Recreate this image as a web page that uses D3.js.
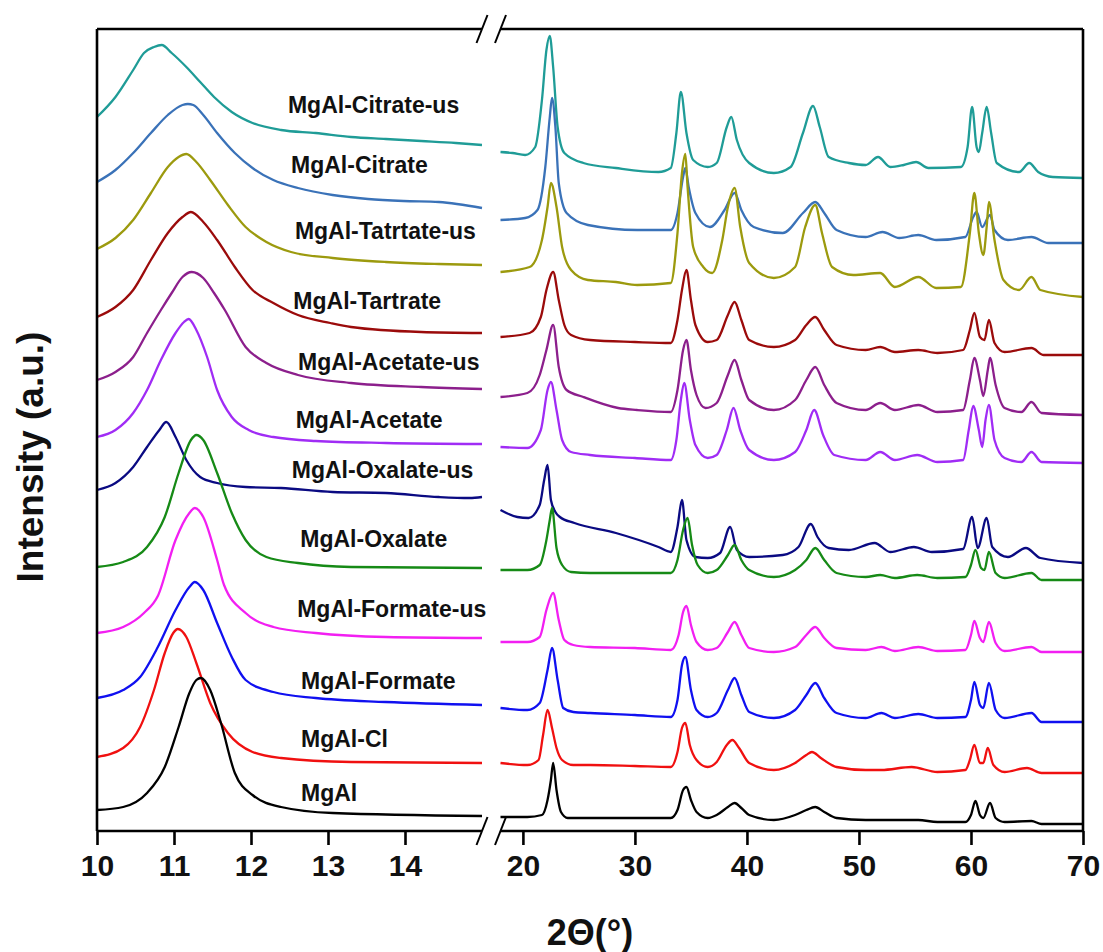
<!DOCTYPE html>
<html>
<head>
<meta charset="utf-8">
<script src="https://cdn.jsdelivr.net/npm/d3@7"></script>
<style>
  body { margin: 0; background: #fff; }
  text { font-family: "Liberation Sans", Arial, sans-serif; font-weight: bold; }
</style>
</head>
<body>
<div id="chart"></div>
<script>
/* Stacked XRD patterns, broken 2-theta axis */

// sample names, top to bottom
const names = ["MgAl-Citrate-us", "MgAl-Citrate", "MgAl-Tatrtate-us", "MgAl-Tartrate",
  "MgAl-Acetate-us", "MgAl-Acetate", "MgAl-Oxalate-us", "MgAl-Oxalate",
  "MgAl-Formate-us", "MgAl-Formate", "MgAl-Cl", "MgAl"];

const colors = ["#1f9c97", "#3a72b8", "#9c9a0e", "#9b0b0b", "#8c1f8c", "#a02cf5",
  "#0a0a82", "#168a16", "#f21ff2", "#1010f0", "#f01010", "#000000"];

// where each name sits: [2theta, intensity]
const labelAt = [[12.48, 718], [12.52, 658], [12.57, 592], [12.55, 522], [12.61, 461], [12.58, 403],
  [12.53, 353], [12.64, 284], [12.6, 214], [12.65, 142], [12.65, 84], [12.65, 30]];

// ---- low angle part (10 - 15 deg) ----
const citrateUsLow = [[10,714],[10.24,734],[10.47,761],[10.61,778],[10.74,784],[10.84,786],[10.97,778],[11.16,764],[11.34,749],[11.52,734],[11.75,719],[12.02,708],[12.39,701],[12.84,698],[13.3,694],[13.75,692],[14.21,690],[14.66,688],[15,686]];
const citrateLow = [[10,649],[10.24,661],[10.47,678],[10.7,698],[10.92,716],[11.11,726],[11.18,727],[11.25,726],[11.38,716],[11.56,698],[11.79,678],[12.02,663],[12.29,651],[12.61,643],[13.06,636],[13.52,632],[13.98,630],[14.44,629],[15,623]];
const tatrtateUsLow = [[10,582],[10.24,593],[10.47,611],[10.7,638],[10.92,664],[11.06,674],[11.16,677],[11.29,669],[11.47,651],[11.7,626],[11.93,604],[12.2,589],[12.52,579],[13.06,573],[13.75,569],[14.44,567],[15,566]];
const tartrateLow = [[10,514],[10.24,524],[10.47,541],[10.7,571],[10.92,598],[11.11,614],[11.22,619],[11.38,609],[11.56,591],[11.79,564],[12.02,541],[12.29,528],[12.61,516],[13.03,508],[13.3,504],[14.21,499],[15,498]];
const acetateUsLow = [[10,451],[10.24,459],[10.47,474],[10.65,498],[10.83,521],[10.97,538],[11.11,554],[11.23,559],[11.38,553],[11.52,538],[11.66,521],[11.93,484],[12.2,468],[12.61,456],[13.3,448],[14.21,444],[15,442]];
const acetateLow = [[10,394],[10.24,401],[10.47,418],[10.65,441],[10.83,471],[11.02,498],[11.13,509],[11.19,512],[11.29,501],[11.43,474],[11.56,441],[11.75,414],[11.97,401],[12.29,394],[12.84,390],[13.75,388],[15,387]];
const oxalateUsLow = [[10,341],[10.24,348],[10.47,364],[10.65,384],[10.81,401],[10.9,409],[11.02,394],[11.16,371],[11.34,354],[11.56,348],[11.93,344],[12.39,343],[13.06,339],[13.75,338],[14.44,334],[14.84,333],[15,334]];
const oxalateLow = [[10,264],[10.34,269],[10.65,284],[10.88,314],[11.06,358],[11.22,391],[11.29,396],[11.38,391],[11.56,358],[11.75,318],[11.93,291],[12.2,274],[12.61,268],[13.3,264],[15,263]];
const formateUsLow = [[10,198],[10.34,204],[10.61,218],[10.79,235],[11.02,291],[11.2,318],[11.27,323],[11.38,314],[11.56,271],[11.65,246],[11.93,218],[12.29,204],[12.84,198],[13.75,194],[15,193]];
const formateLow = [[10,133],[10.34,141],[10.56,154],[10.79,184],[11.02,221],[11.2,244],[11.27,249],[11.38,241],[11.56,208],[11.75,174],[11.93,151],[12.29,139],[12.84,133],[13.75,129],[15,126]];
const clLow = [[10,74],[10.34,83],[10.56,104],[10.74,141],[10.88,178],[10.99,198],[11.05,202],[11.16,194],[11.29,168],[11.47,128],[11.7,98],[12.02,79],[12.39,73],[13.3,69],[15,68]];
const mgalLow = [[10,21],[10.34,24],[10.65,38],[10.88,64],[11.06,104],[11.2,138],[11.29,151],[11.35,153],[11.47,141],[11.61,108],[11.79,58],[12.02,36],[12.39,24],[13.06,18],[15,15]];

// ---- high angle part (18 - 70 deg) ----
const citrateUsHigh = [[18,679],[19.07,678],[20.2,676],[21.1,684],[21.7,731],[22.1,781],[22.4,795],[22.7,764],[23.1,704],[23.7,678],[25.4,668],[28.3,663],[32.1,659],[33.2,663],[33.7,698],[34.1,739],[34.6,698],[35.2,671],[36.5,664],[37.3,668],[38.2,704],[38.6,714],[39.1,691],[40.2,668],[42.4,658],[43.9,664],[45,698],[45.9,725],[46.5,704],[47.3,674],[49.1,668],[50.6,666],[51.7,674],[52.8,664],[54,666],[55.1,669],[56.2,663],[59.1,664],[59.7,684],[60.1,724],[60.5,684],[60.7,679],[61,698],[61.4,724],[61.8,698],[62.3,668],[64.3,659],[65.2,668],[66,659],[67.3,654],[70,653]];
const citrateHigh = [[18,611],[20.2,613],[21.3,621],[22,664],[22.4,714],[22.6,733],[22.9,704],[23.2,648],[23.9,618],[25.8,606],[30.2,601],[33.2,601],[33.8,618],[34.3,654],[34.5,663],[34.8,644],[35.4,618],[36.7,604],[38,621],[38.9,638],[39.5,621],[40.6,604],[43.2,598],[45,618],[46.1,629],[46.9,618],[48,601],[50.6,594],[52.1,599],[53.6,593],[55.3,596],[56.9,591],[59.5,594],[60.2,614],[60.5,619],[61,604],[61.7,616],[62.1,601],[63.3,591],[65.4,594],[66.9,588],[70,588]];
const tatrtateUsHigh = [[18,559],[20.6,564],[21.7,591],[22.2,624],[22.5,648],[23,624],[23.5,584],[24.3,561],[25.8,551],[28.3,549],[30.2,546],[33.2,548],[33.8,598],[34.2,658],[34.5,677],[34.7,644],[35.2,584],[36.1,564],[36.9,558],[37.8,591],[38.3,624],[38.9,643],[39.4,604],[40.2,568],[42.4,553],[44.3,564],[45.2,604],[46.1,626],[46.7,598],[47.6,564],[49.5,556],[51.9,558],[53.2,544],[55.3,554],[56.9,543],[59.1,544],[59.9,598],[60.3,638],[60.7,598],[61.1,576],[61.4,604],[61.6,629],[62.1,591],[62.9,551],[64.3,541],[65.4,554],[66.2,541],[70,534]];
const tartrateHigh = [[18,494],[20.6,498],[21.6,514],[22.1,541],[22.7,559],[23.2,531],[23.7,506],[24.3,496],[26,491],[30,489],[33.2,488],[33.8,511],[34.2,541],[34.6,561],[35,531],[35.4,506],[36.5,489],[37.3,491],[38.3,516],[38.9,529],[39.5,511],[40.2,491],[42.4,484],[44.3,491],[45.3,506],[46.1,514],[46.9,501],[48,486],[50.6,481],[51.9,484],[53.2,479],[55.3,481],[57,478],[59.3,481],[59.9,501],[60.3,518],[60.8,494],[61.2,491],[61.6,511],[62.1,488],[63,479],[65.4,483],[66.5,476],[70,476]];
const acetateUsHigh = [[18,434],[20.4,438],[21.5,456],[22.1,481],[22.7,506],[23.2,464],[23.9,441],[25.4,434],[28.5,423],[30.2,421],[33.2,419],[33.8,441],[34.3,481],[34.6,491],[35,461],[35.5,436],[36.3,423],[37.3,428],[38.3,456],[38.9,471],[39.5,451],[40.2,431],[42.4,421],[44.3,431],[45.3,451],[46.1,464],[46.9,446],[48,428],[50.6,421],[51.9,428],[53.2,421],[55.3,426],[57,419],[59.3,421],[59.9,451],[60.3,473],[60.8,451],[61.1,435],[61.5,461],[61.7,473],[62.2,446],[63,423],[64.5,419],[65.4,429],[66.3,418],[70,416]];
const acetateHigh = [[18,384],[20.4,383],[21.6,401],[22.2,441],[22.5,449],[23,421],[23.5,391],[24.3,379],[26,376],[30,373],[33.2,371],[33.7,391],[34.1,431],[34.4,448],[34.9,411],[35.4,386],[36.5,373],[37.3,376],[38.2,401],[38.8,423],[39.4,401],[40.2,381],[42.4,371],[44.3,379],[45.3,401],[46,421],[46.8,396],[47.8,376],[50.6,371],[51.9,379],[53.2,371],[55.2,376],[57,369],[59.3,371],[59.8,401],[60.2,425],[60.7,401],[61,384],[61.3,411],[61.6,426],[62.1,391],[63,373],[64.5,369],[65.4,379],[66.3,369],[70,368]];
const oxalateUsHigh = [[18,321],[19.5,314],[20.5,313],[21.5,326],[21.9,351],[22.2,366],[22.5,331],[22.9,319],[23.3,314],[24.6,308],[28.3,298],[32.1,284],[33.2,279],[33.8,304],[34.2,331],[34.6,291],[35.4,274],[36.5,273],[37.6,278],[38.5,304],[39.1,281],[40.2,274],[43.2,276],[44.6,284],[45.7,307],[46.3,294],[47.3,283],[49.1,281],[51.4,288],[52.8,279],[54.9,284],[56.5,279],[59.3,282],[60.1,314],[60.6,283],[61.4,313],[61.9,284],[63.3,274],[64.9,283],[66.2,273],[70,268]];
const oxalateHigh = [[18,261],[20.4,261],[21.5,266],[22.1,291],[22.4,311],[22.6,323],[23,283],[23.5,266],[24.3,259],[26,258],[30,258],[33.2,258],[33.8,271],[34.3,301],[34.7,313],[35.1,286],[35.6,266],[36.5,258],[37.3,261],[38.3,276],[38.9,286],[39.5,271],[40.2,261],[42.4,254],[44.3,261],[45.3,271],[46.1,283],[46.9,271],[48,258],[50.6,254],[51.9,256],[53.2,253],[55.2,256],[57,253],[59.5,254],[60,266],[60.4,281],[60.9,263],[61.2,261],[61.6,279],[62.2,258],[63,253],[65.4,258],[66.3,251],[70,251]];
const formateUsHigh = [[18,189],[20.4,189],[21.5,194],[22.1,221],[22.7,238],[23.2,211],[23.7,191],[24.5,186],[26,184],[30,183],[33.2,181],[33.9,196],[34.3,219],[34.6,225],[35,206],[35.5,189],[36.5,181],[37.3,183],[38.3,199],[38.9,209],[39.5,196],[40.2,183],[42.4,179],[44.3,184],[45.3,196],[46.1,204],[46.9,193],[48,183],[50.6,181],[52,184],[53.2,180],[55.3,184],[57,180],[59.5,181],[60,196],[60.3,210],[60.8,193],[61.1,189],[61.6,209],[62.2,188],[63,180],[65.4,184],[66.3,179],[70,179]];
const formateHigh = [[18,123],[20.4,121],[21.5,128],[22.2,161],[22.6,183],[23.1,151],[23.6,123],[24.5,119],[26,118],[30,116],[33.2,114],[33.8,131],[34.2,166],[34.5,174],[35,141],[35.5,121],[36.5,114],[37.3,118],[38.3,141],[38.9,153],[39.5,136],[40.2,119],[42.4,113],[44.3,121],[45.3,136],[46.1,148],[46.9,133],[48,118],[50.6,113],[52,118],[53.2,113],[55.3,117],[57,113],[59.5,114],[60,131],[60.3,149],[60.8,126],[61.1,123],[61.6,148],[62.2,121],[63,113],[65.4,118],[66.3,109],[70,109]];
const clHigh = [[18,68],[20.4,66],[21.4,71],[21.8,96],[22.2,121],[22.6,103],[23,83],[23.5,71],[24.5,66],[26,66],[30,65],[33.2,64],[33.8,79],[34.2,103],[34.5,108],[34.9,86],[35.5,71],[36.5,64],[37.3,69],[38.2,86],[38.7,91],[39.3,83],[40.2,68],[42.4,61],[44.3,68],[45.3,76],[45.8,79],[46.6,73],[48,64],[50.6,61],[52,61],[54.7,64],[57,59],[59.5,61],[59.9,71],[60.3,86],[60.8,68],[61.1,68],[61.5,83],[62,66],[63,59],[65,63],[66.3,58],[70,58]];
const mgalHigh = [[18,14],[20.4,14],[21.7,16],[22.2,31],[22.5,51],[22.7,68],[23,41],[23.4,19],[24,13],[26,13],[30,13],[33.2,13],[33.8,21],[34.3,41],[34.6,44],[35,31],[35.5,19],[36.5,13],[37.3,16],[38.3,24],[38.9,28],[39.5,23],[40.2,16],[42.4,11],[44.3,16],[45.3,21],[46.1,24],[46.9,19],[48,13],[50.6,11],[52,11],[55.3,11],[57,9],[59.5,9],[60,16],[60.4,30],[60.8,16],[61.1,13],[61.7,28],[62.2,13],[63,9],[65.4,10],[66.3,7],[70,7]];

const lowTicks = [10, 11, 12, 13, 14];
const highTicks = [20, 30, 40, 50, 60, 70];

const lowSets = [citrateUsLow, citrateLow, tatrtateUsLow, tartrateLow, acetateUsLow, acetateLow,
  oxalateUsLow, oxalateLow, formateUsLow, formateLow, clLow, mgalLow];
const highSets = [citrateUsHigh, citrateHigh, tatrtateUsHigh, tartrateHigh, acetateUsHigh, acetateHigh,
  oxalateUsHigh, oxalateHigh, formateUsHigh, formateHigh, clHigh, mgalHigh];

const width = 1103, height = 952;
const plotTop = 29, plotBottom = 831, plotLeft = 97, plotRight = 1083;

const svg = d3.select("#chart")
  .append("svg")
  .attr("width", width)
  .attr("height", height);

// two x scales for the broken axis
let xLow = d3.scaleLinear().domain([10, 15]).range([plotLeft, 482]);
let xHigh = d3.scaleLinear().domain([18, 70]).range([500.5, plotRight]);
let y = d3.scaleLinear().domain([0, plotBottom - plotTop]).range([plotBottom, plotTop]);

const lineLow = d3.line().x(d => xLow(d[0])).y(d => y(d[1])).curve(d3.curveMonotoneX);
const lineHigh = d3.line().x(d => xHigh(d[0])).y(d => y(d[1])).curve(d3.curveMonotoneX);

names.forEach((name, i) => {
  svg.append("path")
    .attr("d", lineLow(lowSets[i]))
    .attr("fill", "none")
    .attr("stroke", colors[i])
    .attr("stroke-width", 2.3);
  svg.append("path")
    .attr("d", lineHigh(highSets[i]))
    .attr("fill", "none")
    .attr("stroke", colors[i])
    .attr("stroke-width", 2.3);
});

// sample labels
svg.selectAll(".name")
  .data(names)
  .join("text")
  .attr("class", "name")
  .attr("x", (d, i) => xLow(labelAt[i][0]))
  .attr("y", (d, i) => y(labelAt[i][1]))
  .attr("font-size", 23)
  .attr("fill", "#111")
  .text(d => d);

// frame with breaks
const frame = svg.append("g")
  .attr("stroke", "#000")
  .attr("stroke-width", 2.6)
  .attr("fill", "none");
const bLeft = xLow(15), bRight = xHigh(18);
[plotTop, plotBottom].forEach(yy => {
  frame.append("line").attr("x1", plotLeft).attr("x2", bLeft).attr("y1", yy).attr("y2", yy);
  frame.append("line").attr("x1", bRight).attr("x2", plotRight).attr("y1", yy).attr("y2", yy);
  [bLeft, bRight].forEach(cx => {
    frame.append("line")
      .attr("stroke-width", 2)
      .attr("x1", cx - 5.5).attr("y1", yy + 14)
      .attr("x2", cx + 5.5).attr("y2", yy - 14);
  });
});
frame.append("line").attr("x1", plotLeft).attr("x2", plotLeft).attr("y1", plotTop).attr("y2", plotBottom);
frame.append("line").attr("x1", plotRight).attr("x2", plotRight).attr("y1", plotTop).attr("y2", plotBottom);

// bottom axes
function styleAxis(g) {
  g.select(".domain").remove();
  g.selectAll(".tick line").attr("stroke", "#000").attr("stroke-width", 2.6);
  g.selectAll(".tick text")
    .attr("font-size", 30)
    .attr("font-family", "'Liberation Sans', Arial, sans-serif")
    .attr("font-weight", "bold")
    .attr("fill", "#111");
}

svg.append("g")
  .attr("transform", `translate(0,${plotBottom})`)
  .call(d3.axisBottom(xLow).tickValues(lowTicks).tickFormat(d3.format("d")).tickSize(14).tickPadding(10))
  .call(styleAxis);

svg.append("g")
  .attr("transform", `translate(0,${plotBottom})`)
  .call(d3.axisBottom(xHigh).tickValues(highTicks).tickFormat(d3.format("d")).tickSize(14).tickPadding(10))
  .call(styleAxis);

// axis titles
svg.append("text")
  .attr("x", 590)
  .attr("y", 945)
  .attr("text-anchor", "middle")
  .attr("font-size", 36)
  .attr("fill", "#111")
  .text("2\u0398(\u00b0)");

svg.append("text")
  .attr("transform", "translate(43,457) rotate(-90)")
  .attr("text-anchor", "middle")
  .attr("font-size", 37)
  .attr("fill", "#111")
  .text("Intensity (a.u.)");
</script>
</body>
</html>
